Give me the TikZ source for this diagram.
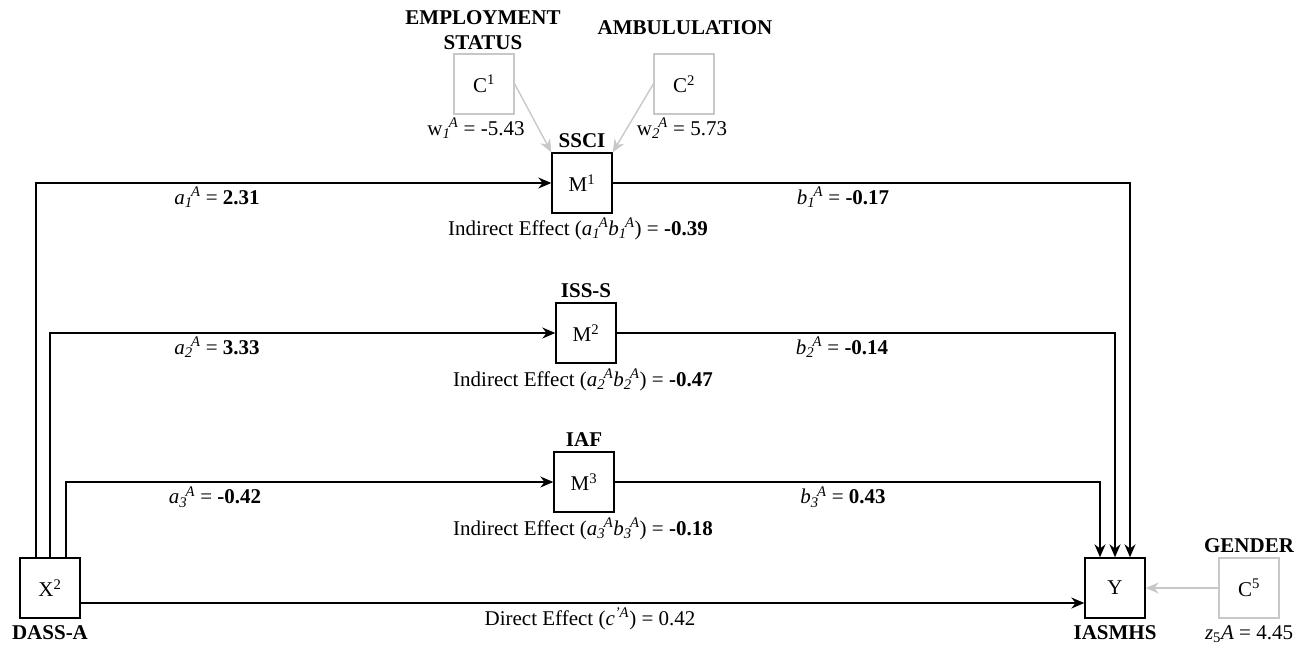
\documentclass[tikz,border=0pt]{standalone}
\usepackage{fontspec}
\setmainfont{Liberation Serif}
\usetikzlibrary{arrows.meta,calc}
\definecolor{cgray}{RGB}{200,200,200}
\tikzset{>=Stealth,every node/.style={font=\fontsize{21}{24}\selectfont},
box/.style={draw,line width=1.4pt,minimum size=60pt,inner sep=0pt},
cbox/.style={box,draw=cgray},
flow/.style={line width=1.4pt,-{Stealth[length=13pt,width=11pt]}},
cflow/.style={flow,draw=cgray},
lab/.style={font=\fontsize{21}{25}\selectfont\bfseries,align=center}}
\newcommand{\subsup}[2]{\textsubscript{\textit{#1}}\kern-1.5pt\textsuperscript{\textit{#2}}}

\begin{document}
\begin{tikzpicture}[x=1pt,y=-1pt]
\useasboundingbox (0,0) rectangle (1305,646);
% variables
\node[box] (X) at (50,588) {X\textsuperscript{2}};
\node[box] (Y) at (1115,588) {Y};
\node[box] (M1) at (582,183) {M\textsuperscript{1}};
\node[box] (M2) at (586,333) {M\textsuperscript{2}};
\node[box] (M3) at (584,482) {M\textsuperscript{3}};
\node[cbox] (C1) at (484,84) {C\textsuperscript{1}};
\node[cbox] (C2) at (684,84) {C\textsuperscript{2}};
\node[cbox] (C5) at (1249,588) {C\textsuperscript{5}};
% names
\node[lab] at (483,30) {EMPLOYMENT\\STATUS};
\node[lab] at (685,28) {AMBULULATION};
\node[lab,above=1pt] at (M1.north) {SSCI};
\node[lab,above=1pt] at (M2.north) {ISS-S};
\node[lab,above=1pt] at (M3.north) {IAF};
\node[lab,below=3pt] at (X.south) {DASS-A};
\node[lab,below=3pt] at (Y.south) {IASMHS};
\node[lab,above=1pt] at (C5.north) {GENDER};
% paths
\draw[flow] ([xshift=-14pt]X.north) |- (M1.west);
\draw[flow] (X.north) |- (M2.west);
\draw[flow] ([xshift=16pt]X.north) |- (M3.west);
\draw[flow] ([yshift=-15pt]X.east) -- ([yshift=-15pt]Y.west);
\draw[flow] (M1.east) -| ([xshift=15pt]Y.north);
\draw[flow] (M2.east) -| (Y.north);
\draw[flow] (M3.east) -| ([xshift=-15pt]Y.north);
\draw[cflow] (C1.east) -- (M1.north west);
\draw[cflow] (C2.west) -- (M1.north east);
\draw[cflow] (C5.west) -- (Y.east);
% coefficients
\node at (476,128) {w\subsup{1}{A} = -5.43};
\node at (682,128) {w\subsup{2}{A} = 5.73};
\node at (217,197) {\textit{a}\subsup{1}{A} = \textbf{2.31}};
\node at (217,347) {\textit{a}\subsup{2}{A} = \textbf{3.33}};
\node at (215,497) {\textit{a}\subsup{3}{A} = \textbf{-0.42}};
\node at (843,197) {\textit{b}\subsup{1}{A} = \textbf{-0.17}};
\node at (842,347) {\textit{b}\subsup{2}{A} = \textbf{-0.14}};
\node at (843,497) {\textit{b}\subsup{3}{A} = \textbf{0.43}};
\node at (578,229) {Indirect Effect (\textit{a}\subsup{1}{A}\textit{b}\subsup{1}{A}) = \textbf{-0.39}};
\node at (583,380) {Indirect Effect (\textit{a}\subsup{2}{A}\textit{b}\subsup{2}{A}) = \textbf{-0.47}};
\node at (583,529) {Indirect Effect (\textit{a}\subsup{3}{A}\textit{b}\subsup{3}{A}) = \textbf{-0.18}};
\node at (590,619) {Direct Effect (\textit{c}\textsuperscript{\textit{'A}}) = 0.42};
\node at (1249,634) {\textit{z}\textsubscript{5}\textit{A} = 4.45};
\end{tikzpicture}
\end{document}
